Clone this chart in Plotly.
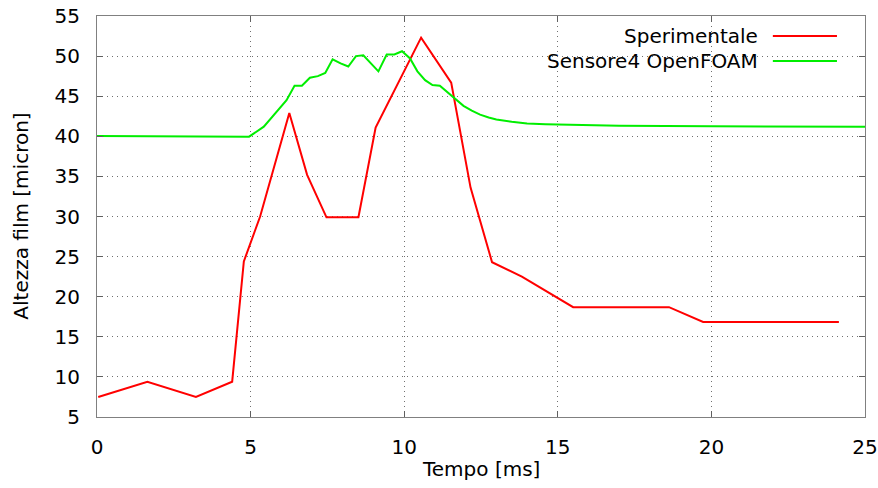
import plotly.graph_objects as go

# Data
sper_x = [0.04, 1.64, 3.22, 4.4, 4.78, 5.31, 6.26, 6.84, 7.47, 8.51, 9.07, 10.55,
          11.53, 12.16, 12.86, 13.83, 15.5, 18.62, 19.73, 24.15]
sper_y = [7.5, 9.4, 7.5, 9.4, 24.4, 30.0, 42.9, 35.2, 29.9, 29.9, 41.1, 52.3,
          46.7, 33.6, 24.3, 22.5, 18.7, 18.7, 16.85, 16.85]

sens_x = [0, 1, 2, 3, 4, 4.95, 5.43, 5.68, 5.93, 6.17, 6.43, 6.67, 6.93, 7.19, 7.43,
          7.67, 7.93, 8.18, 8.43, 8.67, 9.16, 9.43, 9.68, 9.93, 10.19, 10.43, 10.68,
          10.92, 11.16, 11.44, 11.7, 11.93, 12.2, 12.47, 12.75, 13.0, 13.5, 14.0,
          14.6, 15.7, 17, 20, 25]
sens_y = [40.05, 40.04, 40.03, 40.01, 40.0, 39.95, 41.2, 42.3, 43.4, 44.5, 46.3, 46.3,
          47.3, 47.5, 47.9, 49.6, 49.1, 48.7, 50.0, 50.1, 48.1, 50.2, 50.2, 50.6,
          49.7, 48.1, 47.0, 46.4, 46.3, 45.4, 44.5, 43.8, 43.2, 42.7, 42.35, 42.1,
          41.8, 41.6, 41.5, 41.4, 41.3, 41.25, 41.2]

names = ["Sperimentale", "Sensore4 OpenFOAM"]
colors = ["#ff0000", "#00ee00"]
x_ticks = [0, 5, 10, 15, 20, 25]
y_ticks = [5, 10, 15, 20, 25, 30, 35, 40, 45, 50, 55]
x_title = "Tempo [ms]"
y_title = "Altezza film [micron]"

FONT = "DejaVu Sans"
FS = 20

fig = go.Figure()
fig.add_trace(go.Scatter(x=sper_x, y=sper_y, mode="lines", name=names[0],
                         line=dict(color=colors[0], width=2), showlegend=False))
fig.add_trace(go.Scatter(x=sens_x, y=sens_y, mode="lines", name=names[1],
                         line=dict(color=colors[1], width=2), showlegend=False))

axis_common = dict(
    showline=True, linecolor="#808080", linewidth=1, mirror="ticks",
    ticks="inside", ticklen=6, tickcolor="#606060", tickwidth=1,
    showgrid=True, gridcolor="#707070", gridwidth=1, griddash="1px,4px",
    zeroline=False, automargin=False,
    tickfont=dict(family=FONT, size=FS, color="black"),
)

fig.update_xaxes(range=[0, 25], tickvals=x_ticks, ticklabelstandoff=12, **axis_common)
fig.update_yaxes(range=[5, 55], tickvals=y_ticks, ticklabelstandoff=12, **axis_common)

annotations = [
    dict(x=0.5, y=-0.13, xref="paper", yref="paper", text=x_title, showarrow=False,
         xanchor="center", yanchor="middle", font=dict(family=FONT, size=FS, color="black")),
    dict(x=-0.1, y=0.5, xref="paper", yref="paper", text=y_title, showarrow=False,
         textangle=-90, xanchor="center", yanchor="middle",
         font=dict(family=FONT, size=FS, color="black")),
]
shapes = []
# Manual gnuplot-style legend (text right-aligned, sample line on the right)
leg_y = [0.950, 0.888]
for i in range(2):
    annotations.append(dict(x=0.863, y=leg_y[i], xref="paper", yref="paper",
                            text=names[i], showarrow=False, xanchor="right", yanchor="middle",
                            font=dict(family=FONT, size=FS, color="black")))
    shapes.append(dict(type="line", xref="paper", yref="paper",
                       x0=0.880, x1=0.9635, y0=leg_y[i], y1=leg_y[i],
                       line=dict(color=colors[i], width=2)))

fig.update_layout(
    width=878, height=488,
    margin=dict(l=97, r=13, t=16, b=71),
    paper_bgcolor="white", plot_bgcolor="white",
    font=dict(family=FONT, size=FS, color="black"),
    annotations=annotations, shapes=shapes,
)

fig.write_html("out.html")
